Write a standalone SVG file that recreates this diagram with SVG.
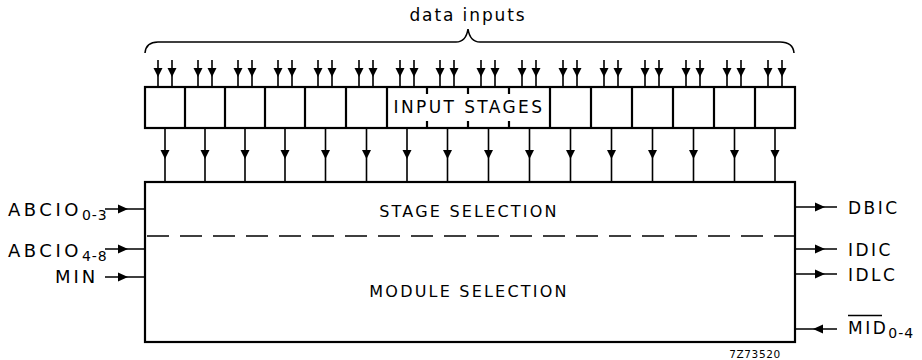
<svg xmlns="http://www.w3.org/2000/svg" width="922" height="360" viewBox="0 0 922 360">
<defs>
<style>
.ln{stroke:#000;stroke-width:1.6;fill:none}
.bx{stroke:#000;stroke-width:2.2;fill:none}
.t{font-family:"DejaVu Sans","Liberation Sans",sans-serif;fill:#000}
</style>
<path id="ad" d="M-4.5,0 L4.5,0 L0,9 Z" fill="#000"/>
<path id="ar" d="M0,-4.5 L0,4.5 L10,0 Z" fill="#000"/>
<path id="al" d="M0,-4.5 L0,4.5 L-10,0 Z" fill="#000"/>
</defs>
<rect width="922" height="360" fill="#fff"/>

<text class="t" x="468" y="21" font-size="17" letter-spacing="1.9" text-anchor="middle">data inputs</text>
<path class="ln" d="M145,53 Q146,42 158,42 L456,42 Q466,42 468,29 Q470,42 480,42 L780,42 Q793,42 794,53"/>

<g id="connectors">
<g class="ln">
<path d="M158,60V87M172,60V87M198,60V87M212,60V87M238,60V87M252,60V87M278,60V87M292,60V87M318,60V87M332,60V87M359,60V87M373,60V87M400,60V87M414,60V87M440,60V87M454,60V87M481,60V87M495,60V87M522,60V87M536,60V87M563,60V87M577,60V87M604,60V87M618,60V87M645,60V87M659,60V87M686,60V87M700,60V87M727,60V87M741,60V87M768,60V87M782,60V87"/>
<path d="M165,128V182M205,128V182M245,128V182M285,128V182M325.5,128V182M366.5,128V182M407,128V182M447.5,128V182M488.5,128V182M529.5,128V182M570.5,128V182M611.5,128V182M652.5,128V182M693.5,128V182M734.5,128V182M775,128V182"/>
<path d="M105,209H145M105,249H145M105,277H145"/>
<path d="M795,207H837M795,249H837M795,274H837M795,329H837"/>
</g>
<g>
<use href="#ad" x="158" y="68"/><use href="#ad" x="172" y="68"/>
<use href="#ad" x="198" y="68"/><use href="#ad" x="212" y="68"/>
<use href="#ad" x="238" y="68"/><use href="#ad" x="252" y="68"/>
<use href="#ad" x="278" y="68"/><use href="#ad" x="292" y="68"/>
<use href="#ad" x="318" y="68"/><use href="#ad" x="332" y="68"/>
<use href="#ad" x="359" y="68"/><use href="#ad" x="373" y="68"/>
<use href="#ad" x="400" y="68"/><use href="#ad" x="414" y="68"/>
<use href="#ad" x="440" y="68"/><use href="#ad" x="454" y="68"/>
<use href="#ad" x="481" y="68"/><use href="#ad" x="495" y="68"/>
<use href="#ad" x="522" y="68"/><use href="#ad" x="536" y="68"/>
<use href="#ad" x="563" y="68"/><use href="#ad" x="577" y="68"/>
<use href="#ad" x="604" y="68"/><use href="#ad" x="618" y="68"/>
<use href="#ad" x="645" y="68"/><use href="#ad" x="659" y="68"/>
<use href="#ad" x="686" y="68"/><use href="#ad" x="700" y="68"/>
<use href="#ad" x="727" y="68"/><use href="#ad" x="741" y="68"/>
<use href="#ad" x="768" y="68"/><use href="#ad" x="782" y="68"/>

<use href="#ad" x="165" y="150"/><use href="#ad" x="205" y="150"/>
<use href="#ad" x="245" y="150"/><use href="#ad" x="285" y="150"/>
<use href="#ad" x="325.5" y="150"/><use href="#ad" x="366.5" y="150"/>
<use href="#ad" x="407" y="150"/><use href="#ad" x="447.5" y="150"/>
<use href="#ad" x="488.5" y="150"/><use href="#ad" x="529.5" y="150"/>
<use href="#ad" x="570.5" y="150"/><use href="#ad" x="611.5" y="150"/>
<use href="#ad" x="652.5" y="150"/><use href="#ad" x="693.5" y="150"/>
<use href="#ad" x="734.5" y="150"/><use href="#ad" x="775" y="150"/>

<use href="#ar" x="118" y="209"/><use href="#ar" x="118" y="249"/><use href="#ar" x="118" y="277"/>
<use href="#ar" x="815" y="207"/><use href="#ar" x="815" y="249"/><use href="#ar" x="815" y="274"/>
<use href="#al" x="823" y="329"/>
</g>
</g>

<g id="input-stages">
<rect class="bx" x="145" y="87" width="650" height="41"/>
<path class="bx" d="M185,87V128M225,87V128M265,87V128M305,87V128M346,87V128M387,87V128M550,87V128M591,87V128M632,87V128M673,87V128M714,87V128M755,87V128"/>
<path class="bx" d="M427,87V94M468,87V94M509,87V94M427,121V128M468,121V128M509,121V128"/>
<text class="t" x="469" y="113" font-size="17" letter-spacing="2.4" text-anchor="middle">INPUT STAGES</text>
</g>

<g id="selection">
<rect class="bx" x="145" y="182" width="650" height="160"/>
<path class="ln" d="M147,236H795" stroke-dasharray="22,11"/>
<text class="t" x="469" y="217" font-size="16" letter-spacing="2.2" text-anchor="middle">STAGE SELECTION</text>
<text class="t" x="469" y="297" font-size="16" letter-spacing="2.2" text-anchor="middle">MODULE SELECTION</text>
</g>

<g id="inputs-left" class="t">
<text x="8" y="216" font-size="18" letter-spacing="3.5">ABCIO<tspan font-size="14" dy="4" letter-spacing="1">0-3</tspan></text>
<text x="8" y="257" font-size="18" letter-spacing="3.5">ABCIO<tspan font-size="14" dy="4" letter-spacing="1">4-8</tspan></text>
<text x="55" y="283" font-size="18" letter-spacing="3">MIN</text>
</g>

<g id="outputs-right" class="t">
<text x="848" y="214" font-size="17" letter-spacing="2.5">DBIC</text>
<text x="848" y="256" font-size="17" letter-spacing="2.5">IDIC</text>
<text x="848" y="281" font-size="17" letter-spacing="2.5">IDLC</text>
<text x="848" y="334" font-size="17" letter-spacing="2.5">MID<tspan font-size="14" dy="4" letter-spacing="1">0-4</tspan></text>
<path class="ln" d="M848,315.5H882"/>
</g>

<text class="t" x="755" y="358" font-size="10.5" letter-spacing="0.6" text-anchor="middle">7Z73520</text>
</svg>
